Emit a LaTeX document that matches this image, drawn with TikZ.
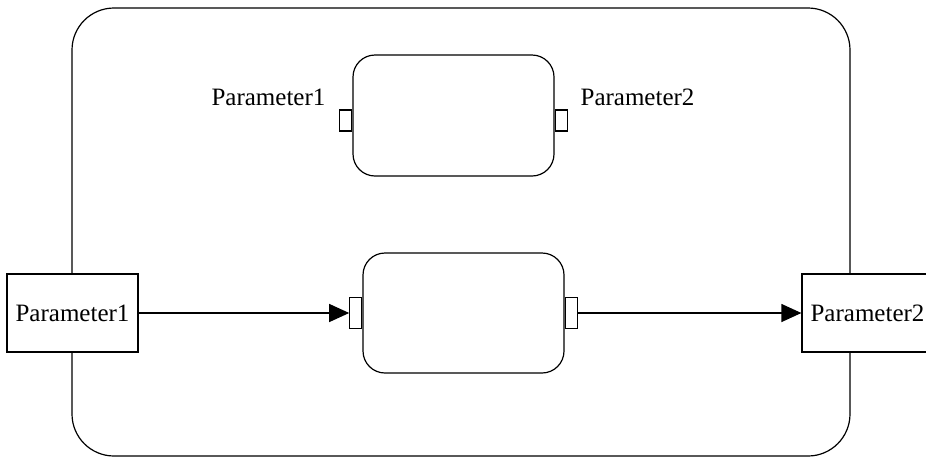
\documentclass[tikz,border=0pt]{standalone}
\usepackage{fontspec}
\setmainfont{Liberation Serif}
\usetikzlibrary{arrows.meta,positioning}

\begin{document}
\begin{tikzpicture}[x=1pt, y=-1pt, >={Triangle[length=20pt,width=18pt]},
	   line width=1.2pt, font=\fontsize{25}{30}\selectfont,
	   box/.style={draw, fill=white, inner sep=0pt},
	   modbox/.style={box, rounded corners=22pt, minimum width=201pt},
	   portbox/.style={box, minimum width=12pt},
	   parbox/.style={box, minimum width=131pt, minimum height=78pt}]
	  \useasboundingbox (0,0) rectangle (926,459);
	  \node[box, rounded corners=42pt, minimum width=778pt, minimum height=448pt] (outer) at (461,232) {};
	  % upper module with its two ports
	  \node[modbox, minimum height=121pt] (up) at (453.5,115.5) {};
	  \node[portbox, minimum height=21pt, anchor=east] (upin) at ([yshift=-5pt]up.west) {};
	  \node[portbox, minimum height=21pt, anchor=west] (upout) at ([yshift=-5pt]up.east) {};
	  \node[anchor=east, inner sep=0pt] (uplabin) at (326,97) {Parameter1};
	  \node[anchor=west, inner sep=0pt] (uplabout) at (580,97) {Parameter2};
	  % lower module between the two parameters
	  \node[modbox, minimum height=120pt] (low) at (463.5,313) {};
	  \node[portbox, minimum height=31pt, anchor=east] (lowin) at (low.west) {};
	  \node[portbox, minimum height=31pt, anchor=west] (lowout) at (low.east) {};
	  \node[parbox] (par1) at (72.5,313) {Parameter1};
	  \node[parbox] (par2) at (867.5,313) {Parameter2};
	  \draw[->] (par1) -- (lowin);
	  \draw[->] (lowout) -- (par2);
	\end{tikzpicture}
\end{document}
